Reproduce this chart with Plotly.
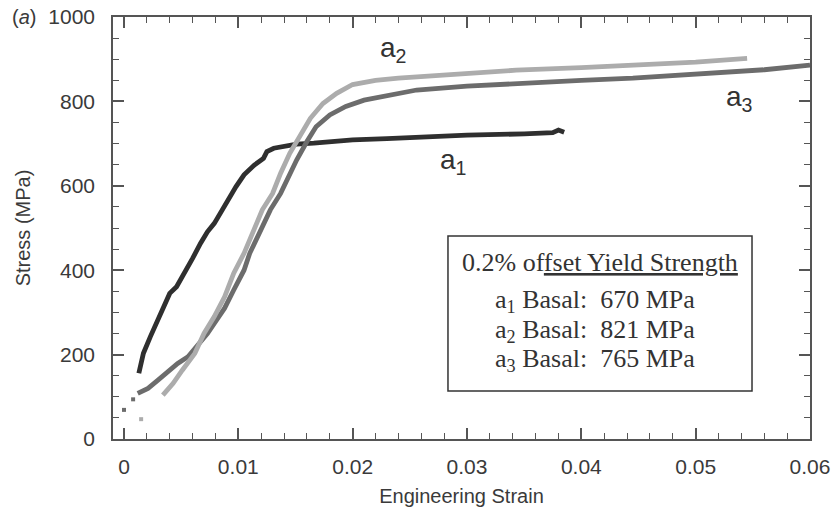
import plotly.graph_objects as go

# ---- data ----
a1_strain = [0.0013, 0.0017, 0.0023, 0.0028, 0.0034, 0.0040, 0.0046, 0.0053, 0.0060, 0.0067,
             0.0073, 0.0079, 0.0085, 0.0092, 0.0098, 0.0105, 0.0114, 0.0122, 0.0125, 0.0131,
             0.0142, 0.0151, 0.0166, 0.0180, 0.0200, 0.0230, 0.0256, 0.0300, 0.0350, 0.0375,
             0.0380, 0.0385]
a1_stress = [156, 203, 242, 274, 310, 345, 361, 393, 428, 464,
             491, 511, 539, 570, 598, 626, 649, 665, 681, 689,
             694, 699, 701, 705, 709, 712, 716, 720, 723, 726,
             732, 727]

a2_strain = [0.0034, 0.0043, 0.0051, 0.0062, 0.0070, 0.0079, 0.0088, 0.0096, 0.0105, 0.0114,
             0.0121, 0.0130, 0.0137, 0.0145, 0.0154, 0.0163, 0.0174, 0.0186, 0.0200, 0.0220,
             0.0240, 0.0256, 0.0300, 0.0343, 0.0400, 0.0445, 0.0500, 0.0545]
a2_stress = [104, 132, 163, 203, 250, 290, 337, 393, 440, 495,
             543, 582, 630, 677, 720, 760, 795, 819, 840, 850,
             855, 858, 866, 874, 880, 886, 893, 902]

a3_strain = [0.0012, 0.0021, 0.0030, 0.0038, 0.0047, 0.0056, 0.0064, 0.0073, 0.0079, 0.0088,
             0.0096, 0.0105, 0.0110, 0.0119, 0.0128, 0.0137, 0.0144, 0.0151, 0.0160, 0.0168,
             0.0180, 0.0194, 0.0210, 0.0239, 0.0256, 0.0300, 0.0343, 0.0400, 0.0445, 0.0516,
             0.0560, 0.0600]
a3_stress = [108, 120, 140, 160, 179, 195, 219, 250, 274, 310,
             353, 400, 440, 495, 543, 582, 622, 661, 705, 740,
             768, 788, 803, 819, 827, 836, 843, 850, 855, 867,
             875, 886]

# isolated initial points
dark_dot_strain = [0.0000, 0.0008]
dark_dot_stress = [69, 94]
light_dot_strain = [0.0015]
light_dot_stress = [47]

x_ticks = [0, 0.01, 0.02, 0.03, 0.04, 0.05, 0.06]
x_tick_labels = ["0", "0.01", "0.02", "0.03", "0.04", "0.05", "0.06"]
y_ticks = [0, 200, 400, 600, 800, 1000]

yield_labels = ["a<sub>1</sub> Basal:&nbsp;&nbsp;670 MPa",
                "a<sub>2</sub> Basal:&nbsp;&nbsp;821 MPa",
                "a<sub>3</sub> Basal:&nbsp;&nbsp;765 MPa"]

C1, C2, C3 = "#2f2f2f", "#acacac", "#6c6c6c"

fig = go.Figure()
fig.add_trace(go.Scatter(x=a1_strain, y=a1_stress, mode="lines",
                         line=dict(color=C1, width=4.8), showlegend=False))
fig.add_trace(go.Scatter(x=a3_strain, y=a3_stress, mode="lines",
                         line=dict(color=C3, width=4.8), showlegend=False))
fig.add_trace(go.Scatter(x=a2_strain, y=a2_stress, mode="lines",
                         line=dict(color=C2, width=4.8), showlegend=False))
fig.add_trace(go.Scatter(x=dark_dot_strain, y=dark_dot_stress, mode="markers",
                         marker=dict(color=C3, size=4, symbol="square"), showlegend=False))
fig.add_trace(go.Scatter(x=light_dot_strain, y=light_dot_stress, mode="markers",
                         marker=dict(color=C2, size=4, symbol="square"), showlegend=False))

axis_common = dict(showline=True, linecolor="#555", linewidth=1.5, mirror="allticks",
                   ticks="inside", tickcolor="#555", tickwidth=1.5, ticklen=11,
                   showgrid=False, zeroline=False, automargin=False, ticklabeloverflow="allow",
                   tickfont=dict(family="Liberation Sans, Arial", size=21, color="#3a3a3a"))

fig.update_xaxes(range=[-0.00096, 0.06], tickvals=x_ticks, ticktext=x_tick_labels,
                 minor=dict(dtick=0.002, ticks="inside", ticklen=6, tickcolor="#555", tickwidth=1.2),
                 title=dict(text="Engineering Strain", standoff=12,
                            font=dict(family="Liberation Sans, Arial", size=20, color="#3a3a3a")),
                 ticklabelstandoff=8, **axis_common)
fig.update_yaxes(range=[0, 1000], tickvals=y_ticks,
                 minor=dict(dtick=50, ticks="inside", ticklen=6, tickcolor="#555", tickwidth=1.2),
                 title=dict(text="Stress (MPa)", standoff=12,
                            font=dict(family="Liberation Sans, Arial", size=20, color="#3a3a3a")),
                 ticklabelstandoff=12, **axis_common)

lab_font = dict(family="Liberation Sans, Arial", size=28, color="#333")
fig.add_annotation(x=0.0235, y=922, text="a<sub>2</sub>", showarrow=False, font=lab_font)
fig.add_annotation(x=0.0288, y=657, text="a<sub>1</sub>", showarrow=False, font=lab_font)
fig.add_annotation(x=0.0538, y=806, text="a<sub>3</sub>", showarrow=False, font=lab_font)

fig.add_annotation(xref="paper", yref="paper", x=-0.148, y=1.0, xanchor="left", yanchor="middle",
                   text="(<i>a</i>)", showarrow=False,
                   font=dict(family="Liberation Sans, Arial", size=20, color="#3a3a3a"))

# yield-strength box
fig.add_shape(type="rect", xref="paper", yref="paper", x0=0.4806, x1=0.9168, y0=0.1137, y1=0.481,
              line=dict(color="#333", width=1.5), fillcolor="rgba(0,0,0,0)")
box_font = dict(family="Liberation Serif, Times New Roman", size=26, color="#333")
fig.add_annotation(xref="paper", yref="paper", x=0.6987, y=0.4194, xanchor="center", yanchor="middle",
                   text="0.2% of<u>fset Yield Strength</u>", showarrow=False, font=box_font)
for lbl, yy in zip(yield_labels, [0.327, 0.256, 0.187]):
    fig.add_annotation(xref="paper", yref="paper", x=0.545, y=yy, xanchor="left", yanchor="middle",
                       text=lbl, showarrow=False, font=box_font)

fig.update_layout(width=832, height=513, margin=dict(l=113, r=22, t=17, b=74),
                  paper_bgcolor="white", plot_bgcolor="white", showlegend=False)

# remove the browser's default 8px body margin so the figure fills the window exactly
fig.write_html("out.html", config={"displayModeBar": False},
               post_script="document.body.style.margin='0px';")
